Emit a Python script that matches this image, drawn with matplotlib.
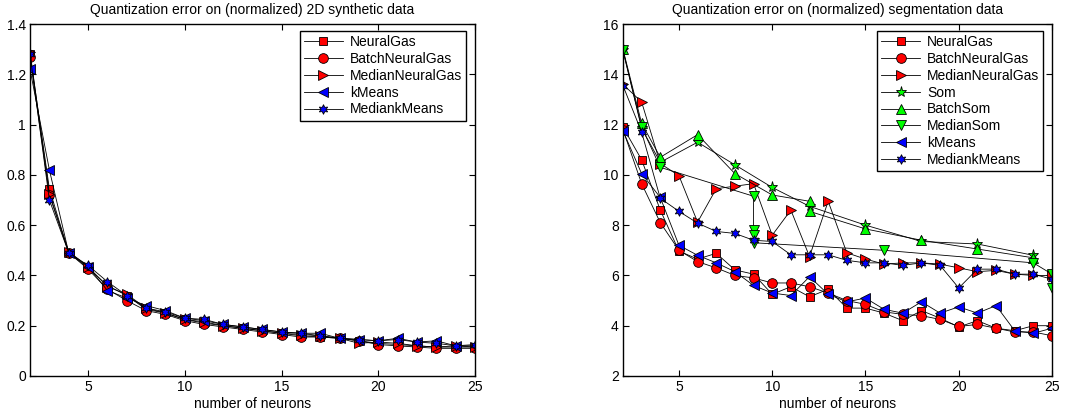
import matplotlib.pyplot as plt
import numpy as np

plt.rcParams['font.family'] = ['Liberation Sans', 'DejaVu Sans']
plt.rcParams['font.size'] = 10

# ---- left panel: 2D synthetic data ----
neurons = list(range(2, 26))
syn_ng = [1.28, 0.745, 0.49, 0.43, 0.36, 0.32, 0.265, 0.25, 0.225, 0.21, 0.20, 0.19,
          0.18, 0.17, 0.16, 0.155, 0.15, 0.14, 0.13, 0.125, 0.12, 0.115, 0.115, 0.115]
syn_bng = [1.27, 0.72, 0.49, 0.425, 0.345, 0.30, 0.26, 0.245, 0.22, 0.205, 0.195, 0.185,
           0.175, 0.165, 0.155, 0.155, 0.15, 0.14, 0.125, 0.12, 0.115, 0.11, 0.11, 0.11]
syn_mng = [1.29, 0.725, 0.495, 0.435, 0.355, 0.325, 0.27, 0.25, 0.225, 0.215, 0.20, 0.19,
           0.18, 0.17, 0.165, 0.16, 0.15, 0.13, 0.135, 0.13, 0.12, 0.115, 0.12, 0.115]
syn_km = [1.22, 0.82, 0.49, 0.435, 0.34, 0.31, 0.28, 0.26, 0.23, 0.22, 0.205, 0.195,
          0.185, 0.175, 0.17, 0.17, 0.15, 0.145, 0.14, 0.15, 0.135, 0.14, 0.12, 0.12]
syn_mkm = [1.28, 0.70, 0.49, 0.44, 0.375, 0.32, 0.27, 0.255, 0.23, 0.225, 0.205, 0.195,
           0.185, 0.175, 0.17, 0.16, 0.15, 0.145, 0.14, 0.145, 0.135, 0.13, 0.12, 0.125]

# ---- right panel: segmentation data ----
seg_ng = [11.9, 10.6, 8.6, 6.97, 6.65, 6.88, 6.22, 6.05, 5.25, 5.55, 5.15, 5.45,
          4.7, 4.7, 4.5, 4.2, 4.6, 4.3, 3.95, 4.2, 3.9, 3.8, 4.0, 4.0]
seg_bng = [11.8, 9.65, 8.1, 7.0, 6.55, 6.3, 6.0, 5.9, 5.7, 5.7, 5.55, 5.3,
           5.0, 4.85, 4.55, 4.45, 4.4, 4.25, 3.97, 4.05, 3.9, 3.75, 3.75, 3.6]
seg_mng = [13.6, 12.9, 10.45, 9.97, 8.12, 9.45, 9.55, 9.65, 7.6, 8.6, 6.75, 8.95,
           6.9, 6.65, 6.45, 6.5, 6.5, 6.45, 6.3, 6.15, 6.2, 6.05, 6.0, 6.0]
seg_km = [11.75, 10.05, 9.1, 7.2, 6.8, 6.5, 6.15, 5.6, 5.3, 5.2, 5.95, 5.25,
          4.95, 5.1, 4.65, 4.5, 4.95, 4.5, 4.75, 4.5, 4.8, 3.8, 3.7, 3.9]
seg_mkm = [13.55, 11.7, 9.07, 8.55, 8.08, 7.75, 7.67, 7.4, 7.35, 6.82, 6.82, 6.82,
           6.6, 6.5, 6.5, 6.4, 6.5, 6.4, 5.5, 6.25, 6.25, 6.05, 6.05, 5.85]

som_x = [2, 3, 4, 6, 8, 10, 12, 15, 18, 21, 24]
seg_som = [14.95, 11.85, 10.5, 11.3, 10.4, 9.5, 8.75, 8.0, 7.35, 7.25, 6.8]
bsom_x = [2, 3, 4, 6, 8, 10, 12, 12, 15, 18, 21, 24]
seg_bsom = [15.0, 12.05, 10.7, 11.6, 10.05, 9.2, 8.95, 8.55, 7.85, 7.4, 7.05, 6.7]
msom_x = [2, 3, 4, 9, 9, 9, 9, 16, 24, 25, 25]
seg_msom = [14.95, 11.9, 10.3, 9.15, 7.8, 7.6, 7.3, 7.0, 6.5, 6.05, 5.5]

hexagram = (6, 1, 0)
line_kw = dict(color='k', lw=0.6, markeredgecolor='k', markeredgewidth=0.6)

fig = plt.figure(figsize=(10.84, 4.16), dpi=100)
ax1 = fig.add_axes([0.0277, 0.0962, 0.4105, 0.846])
ax2 = fig.add_axes([0.5747, 0.0962, 0.3958, 0.846])

ax1.plot(neurons, syn_ng, marker='s', ms=6, markerfacecolor='r', label='NeuralGas', **line_kw)
ax1.plot(neurons, syn_bng, marker='o', ms=7, markerfacecolor='r', label='BatchNeuralGas', **line_kw)
ax1.plot(neurons, syn_mng, marker='>', ms=7, markerfacecolor='r', label='MedianNeuralGas', **line_kw)
ax1.plot(neurons, syn_km, marker='<', ms=7, markerfacecolor='b', label='kMeans', **line_kw)
ax1.plot(neurons, syn_mkm, marker=hexagram, ms=7, markerfacecolor='b', label='MediankMeans', **line_kw)

ax2.plot(neurons, seg_ng, marker='s', ms=6, markerfacecolor='r', label='NeuralGas', **line_kw)
ax2.plot(neurons, seg_bng, marker='o', ms=7, markerfacecolor='r', label='BatchNeuralGas', **line_kw)
ax2.plot(neurons, seg_mng, marker='>', ms=7, markerfacecolor='r', label='MedianNeuralGas', **line_kw)
ax2.plot(som_x, seg_som, marker='*', ms=8, markerfacecolor='#00ff00', label='Som', **line_kw)
ax2.plot(bsom_x, seg_bsom, marker='^', ms=7, markerfacecolor='#00ff00', label='BatchSom', **line_kw)
ax2.plot(msom_x, seg_msom, marker='v', ms=7, markerfacecolor='#00ff00', label='MedianSom', **line_kw)
ax2.plot(neurons, seg_km, marker='<', ms=7, markerfacecolor='b', label='kMeans', **line_kw)
ax2.plot(neurons, seg_mkm, marker=hexagram, ms=7, markerfacecolor='b', label='MediankMeans', **line_kw)

ax1.set_ylim(0, 1.4)
ax1.set_yticks(np.arange(0, 1.41, 0.2))
ax1.set_yticklabels(['0', '0.2', '0.4', '0.6', '0.8', '1', '1.2', '1.4'])
ax1.set_title('Quantization error on (normalized) 2D synthetic data', fontsize=10, pad=7.5)

ax2.set_ylim(2, 16)
ax2.set_yticks(range(2, 17, 2))
ax2.set_title('Quantization error on (normalized) segmentation data', fontsize=10, pad=7.5)

for ax in (ax1, ax2):
    ax.set_xlim(2, 25)
    ax.set_xticks([5, 10, 15, 20, 25])
    ax.set_xlabel('number of neurons', labelpad=2)
    ax.tick_params(direction='in', top=True, right=True, length=4, width=0.8, labelsize=10, pad=3)
    for s in ax.spines.values():
        s.set_linewidth(1.0)
    leg = ax.legend(loc='upper right', bbox_to_anchor=(0.98, 0.98), borderaxespad=0,
                    fancybox=False, framealpha=1, edgecolor='k', handlelength=2.8,
                    handletextpad=0.5, borderpad=0.3, labelspacing=0.2, fontsize=10)
    leg.get_frame().set_linewidth(1.0)

fig.savefig('out.png', dpi=100)
